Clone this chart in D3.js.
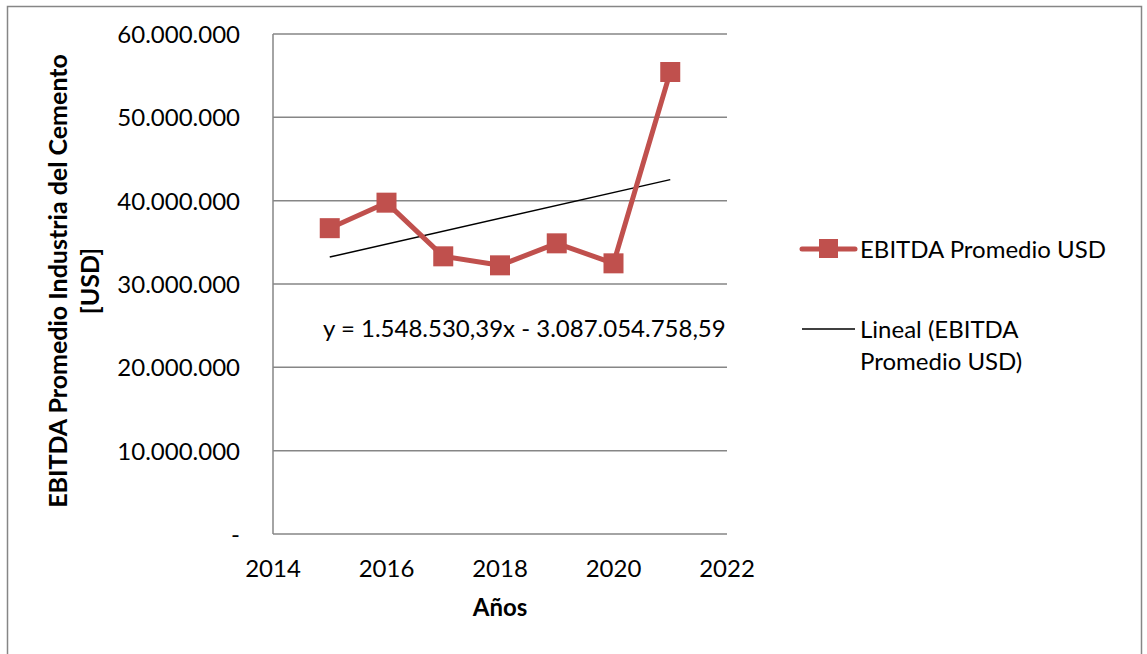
<!DOCTYPE html>
<html>
<head>
<meta charset="utf-8">
<script src="https://cdn.jsdelivr.net/npm/d3@7"></script>
<style>
    body { margin: 0; background: #fff; }
    text { font-family: Lato, "Open Sans", sans-serif; fill: #000; }
</style>
</head>
<body>
<div id="viz"></div>
<script>
// data
let years = [2015, 2016, 2017, 2018, 2019, 2020, 2021];
let ebitda = [36700000, 39760000, 33320000, 32240000, 34880000, 32480000, 55440000];
let yTicks = [0, 10000000, 20000000, 30000000, 40000000, 50000000, 60000000];
let xTicks = [2014, 2016, 2018, 2020, 2022];
// linear trend shown in the chart
let trendSlope = 1548530.39;
let trendIntercept = -3087054758.59;

let width = 1147, height = 654;
let red = "#c0504d", grid = "#868686";
let fs = "24px";

let svg = d3.select("#viz").append("svg")
    .attr("width", width)
    .attr("height", height);

// outer chart border
svg.append("rect")
    .attr("x", 7.5).attr("y", 6.5)
    .attr("width", 1134).attr("height", 660)
    .attr("fill", "none")
    .attr("stroke", grid)
    .attr("stroke-width", 1.5);

let x = d3.scaleLinear().domain([2014, 2022]).range([273, 727]);
let y = d3.scaleLinear().domain([0, 60000000]).range([534, 34]);

// format with dots as thousands separator, "-" for zero
let fmt = d => d === 0 ? "-" : d3.format(",")(d).replace(/,/g, ".");

// gridlines
svg.selectAll(".grid")
    .data(yTicks)
    .enter()
    .append("line")
    .attr("x1", x(2014)).attr("x2", x(2022))
    .attr("y1", d => y(d)).attr("y2", d => y(d))
    .attr("stroke", grid)
    .attr("stroke-width", 1.5);

// y axis line
svg.append("line")
    .attr("x1", x(2014)).attr("x2", x(2014))
    .attr("y1", y(0)).attr("y2", y(60000000))
    .attr("stroke", grid)
    .attr("stroke-width", 1.5);

// y tick labels
svg.selectAll(".ylab")
    .data(yTicks)
    .enter()
    .append("text")
    .attr("x", 240)
    .attr("y", d => y(d) + 9)
    .attr("text-anchor", "end")
    .style("font-size", fs)
    .text(fmt);

// x tick labels
svg.selectAll(".xlab")
    .data(xTicks)
    .enter()
    .append("text")
    .attr("x", d => x(d))
    .attr("y", 577)
    .attr("text-anchor", "middle")
    .style("font-size", fs)
    .text(d => d);

// axis titles
svg.append("text")
    .attr("x", 500).attr("y", 616)
    .attr("text-anchor", "middle")
    .style("font-size", fs)
    .style("font-weight", "bold")
    .text("Años");

let yTitle = svg.append("text")
    .attr("transform", "translate(67,281) rotate(-90)")
    .attr("text-anchor", "middle")
    .style("font-size", "25px")
    .style("font-weight", "bold");
yTitle.append("tspan").attr("x", 0).attr("dy", 0).text("EBITDA Promedio Industria del Cemento");
yTitle.append("tspan").attr("x", 0).attr("dy", 32).text("[USD]");

// trend line
let trend = d => trendSlope * d + trendIntercept;
svg.append("line")
    .attr("x1", x(years[0])).attr("y1", y(trend(years[0])))
    .attr("x2", x(years[years.length - 1])).attr("y2", y(trend(years[years.length - 1])))
    .attr("stroke", "#000")
    .attr("stroke-width", 1.5);

// series line
let line = d3.line()
    .x((d, i) => x(years[i]))
    .y(d => y(d));

svg.append("path")
    .datum(ebitda)
    .attr("d", line)
    .attr("fill", "none")
    .attr("stroke", red)
    .attr("stroke-width", 5)
    .attr("stroke-linejoin", "round");

svg.selectAll(".marker")
    .data(ebitda)
    .enter()
    .append("rect")
    .attr("x", (d, i) => x(years[i]) - 10)
    .attr("y", d => y(d) - 10)
    .attr("width", 20)
    .attr("height", 20)
    .attr("fill", red);

// equation label
svg.append("text")
    .attr("x", 323).attr("y", 337)
    .style("font-size", fs)
    .text("y = 1.548.530,39x - 3.087.054.758,59");

// legend
let lg = svg.append("g");
lg.append("line")
    .attr("x1", 802).attr("x2", 855)
    .attr("y1", 249).attr("y2", 249)
    .attr("stroke", red)
    .attr("stroke-width", 5)
    .attr("stroke-linecap", "round");
lg.append("rect")
    .attr("x", 819).attr("y", 239)
    .attr("width", 19).attr("height", 19)
    .attr("fill", red);
lg.append("text")
    .attr("x", 860).attr("y", 258)
    .style("font-size", fs)
    .text("EBITDA Promedio USD");

lg.append("line")
    .attr("x1", 802).attr("x2", 855)
    .attr("y1", 329).attr("y2", 329)
    .attr("stroke", "#000")
    .attr("stroke-width", 1.5);
lg.append("text")
    .attr("x", 860).attr("y", 338)
    .style("font-size", fs)
    .text("Lineal (EBITDA");
lg.append("text")
    .attr("x", 860).attr("y", 370)
    .style("font-size", fs)
    .text("Promedio USD)");
</script>
</body>
</html>
